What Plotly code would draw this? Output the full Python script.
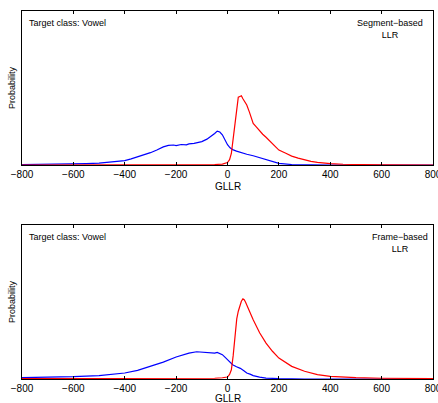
import plotly.graph_objects as go
from plotly.subplots import make_subplots

# GLLR histograms, y in fraction of the (hidden) probability axis
seg_blue_x = [-800, -700, -600, -550, -500, -450, -400, -375, -350, -325, -300, -275, -250, -230, -210, -200,
              -180, -160, -150, -130, -110, -100, -80, -60, -50, -40, -30, -20, -10, 0, 10, 20, 35, 50,
              75, 100, 125, 150, 175, 200, 250, 300, 400, 800]
seg_blue_y = [0.003, 0.004, 0.007, 0.009, 0.012, 0.019, 0.028, 0.04, 0.052, 0.066, 0.08, 0.097, 0.118, 0.127,
              0.13, 0.126, 0.133, 0.131, 0.137, 0.14, 0.148, 0.152, 0.168, 0.19, 0.205, 0.22, 0.214, 0.196,
              0.165, 0.132, 0.112, 0.1, 0.09, 0.081, 0.07, 0.06, 0.048, 0.036, 0.022, 0.011, 0.003, 0.001,
              0.0, 0.0]

seg_red_x = [-800, -300, -100, -50, -20, 0, 8, 15, 22, 30, 36, 42, 48, 54, 60, 68, 75, 85, 100, 112, 125,
             137, 150, 175, 200, 225, 250, 275, 300, 325, 350, 375, 400, 450, 500, 600, 800]
seg_red_y = [0.0, 0.0, 0.001, 0.003, 0.006, 0.016, 0.035, 0.075, 0.17, 0.29, 0.38, 0.44, 0.445, 0.45,
             0.43, 0.41, 0.39, 0.345, 0.27, 0.248, 0.22, 0.2, 0.18, 0.135, 0.097, 0.078, 0.058, 0.045,
             0.032, 0.024, 0.017, 0.012, 0.009, 0.005, 0.002, 0.0005, 0.0]

frm_blue_x = [-800, -700, -600, -500, -450, -400, -350, -300, -250, -200, -175, -150, -120, -100, -75, -50,
              -40, -30, -20, -10, 0, 10, 20, 35, 50, 65, 75, 90, 100, 125, 150, 200, 300, 800]
frm_blue_y = [0.009, 0.011, 0.015, 0.022, 0.029, 0.039, 0.056, 0.082, 0.11, 0.143, 0.158, 0.168, 0.177,
              0.175, 0.172, 0.168, 0.173, 0.167, 0.158, 0.142, 0.125, 0.108, 0.093, 0.08, 0.069, 0.052,
              0.039, 0.03, 0.022, 0.012, 0.006, 0.002, 0.0, 0.0]

frm_red_x = [-800, -400, -100, -50, -20, 0, 8, 15, 22, 30, 36, 42, 48, 54, 60, 65, 70, 80, 90, 100, 125,
             150, 175, 200, 250, 300, 350, 400, 500, 600, 800]
frm_red_y = [0.003, 0.003, 0.004, 0.005, 0.008, 0.013, 0.03, 0.06, 0.15, 0.3, 0.39, 0.44, 0.48, 0.505,
             0.52, 0.515, 0.5, 0.46, 0.42, 0.385, 0.3, 0.233, 0.18, 0.136, 0.082, 0.05, 0.028, 0.017,
             0.009, 0.005, 0.003]

xticks = [-800, -600, -400, -200, 0, 200, 400, 600, 800]

fig = make_subplots(rows=2, cols=1, vertical_spacing=0.163)

fig.add_trace(go.Scatter(x=seg_blue_x, y=seg_blue_y, mode="lines",
                         line=dict(color="#0000ff", width=1.2)), row=1, col=1)
fig.add_trace(go.Scatter(x=seg_red_x, y=seg_red_y, mode="lines",
                         line=dict(color="#ff0000", width=1.2)), row=1, col=1)
fig.add_trace(go.Scatter(x=frm_blue_x, y=frm_blue_y, mode="lines",
                         line=dict(color="#0000ff", width=1.2)), row=2, col=1)
fig.add_trace(go.Scatter(x=frm_red_x, y=frm_red_y, mode="lines",
                         line=dict(color="#ff0000", width=1.2)), row=2, col=1)

font = dict(family="Liberation Sans, Arial, sans-serif", size=10, color="black")
small = dict(font, size=9)

for r in (1, 2):
    fig.update_xaxes(range=[-800, 800], tickvals=xticks, ticks="inside", ticklen=3,
                     tickcolor="black", showline=True, linecolor="black", linewidth=1,
                     mirror="ticks", showgrid=False, zeroline=False, automargin=False,
                     ticklabeloverflow="allow", tickfont=font,
                     row=r, col=1)
    fig.update_yaxes(range=[0, 1], showticklabels=False, ticks="", showline=True,
                     linecolor="black", linewidth=1, mirror=True, showgrid=False,
                     zeroline=False, automargin=False,
                     row=r, col=1)

# axis titles as annotations so the plot boxes stay put
for yr, shift in (("y domain", -14), ("y2 domain", -12)):
    xr = "x domain" if yr == "y domain" else "x2 domain"
    fig.add_annotation(x=0.5, y=0, xref=xr, yref=yr, yshift=shift, text="GLLR", showarrow=False,
                       xanchor="center", yanchor="top", font=font)
    fig.add_annotation(x=0, y=0.5, xref=xr, yref=yr, xshift=-10, text="Probability", showarrow=False,
                       textangle=-90, xanchor="center", yanchor="middle", font=small)

fig.add_annotation(x=0.012, y=0.97, xref="x domain", yref="y domain", text="Target class: Vowel",
                   showarrow=False, xanchor="left", yanchor="top", font=small)
fig.add_annotation(x=0.895, y=0.97, xref="x domain", yref="y domain", text="Segment\u2212based<br>LLR",
                   showarrow=False, xanchor="center", yanchor="top", align="center", font=small)
fig.add_annotation(x=0.012, y=0.97, xref="x2 domain", yref="y2 domain", text="Target class: Vowel",
                   showarrow=False, xanchor="left", yanchor="top", font=small)
fig.add_annotation(x=0.92, y=0.97, xref="x2 domain", yref="y2 domain", text="Frame\u2212based<br>LLR",
                   showarrow=False, xanchor="center", yanchor="top", align="center", font=small)

fig.update_layout(width=438, height=403, showlegend=False,
                  margin=dict(l=22, r=5, t=11, b=24),
                  plot_bgcolor="white", paper_bgcolor="white")

fig.write_html("out.html", config={"displayModeBar": False},
               post_script="document.body.style.margin='0';")
